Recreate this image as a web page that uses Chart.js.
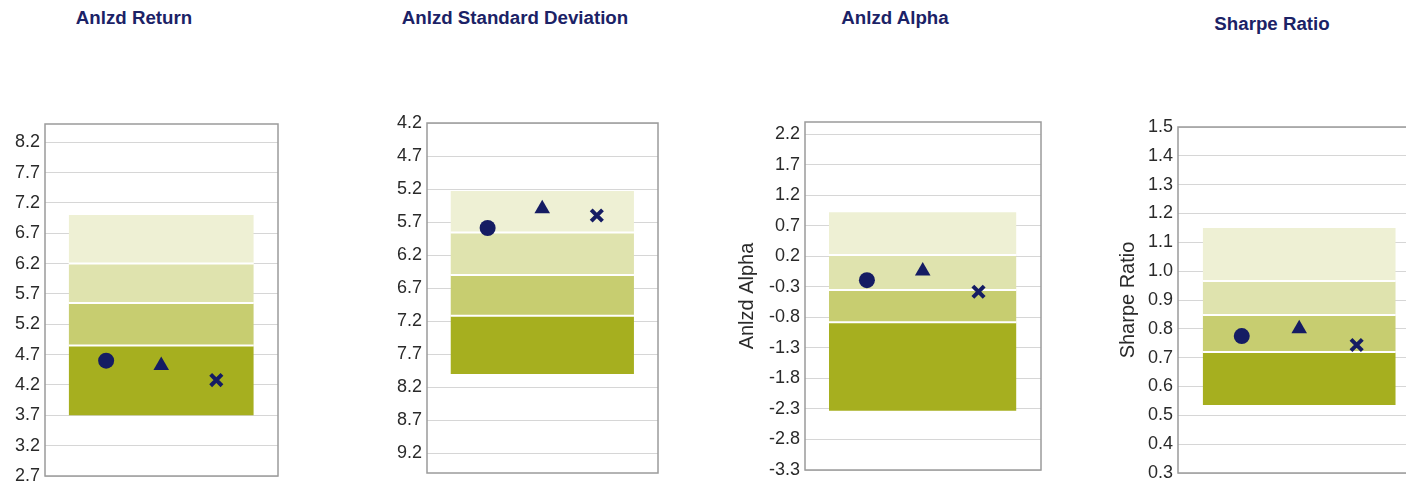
<!DOCTYPE html>
<html>
<head>
<meta charset="utf-8">
<script src="https://cdn.jsdelivr.net/npm/chart.js@4.4.1/dist/chart.umd.min.js"></script>
<style>
  html, body { margin:0; padding:0; background:#fff; overflow:hidden; width:1406px; height:485px; }
  .ttl { position:absolute; width:400px; text-align:center; font:bold 18.7px "Liberation Sans", Arial, sans-serif;
         color:#1b2266; line-height:20px; white-space:nowrap; }
  canvas { position:absolute; top:0; }
</style>
</head>
<body>
<script>
// ---------- data ----------
const metricTitles = ['Anlzd Return', 'Anlzd Standard Deviation', 'Anlzd Alpha', 'Sharpe Ratio'];
const seriesNames  = ['Fund', 'Category', 'Benchmark'];

const returnTicks = [2.7, 3.2, 3.7, 4.2, 4.7, 5.2, 5.7, 6.2, 6.7, 7.2, 7.7, 8.2];
const stdDevTicks = [4.2, 4.7, 5.2, 5.7, 6.2, 6.7, 7.2, 7.7, 8.2, 8.7, 9.2];
const alphaTicks  = [-3.3, -2.8, -2.3, -1.8, -1.3, -0.8, -0.3, 0.2, 0.7, 1.2, 1.7, 2.2];
const sharpeTicks = [0.3, 0.4, 0.5, 0.6, 0.7, 0.8, 0.9, 1.0, 1.1, 1.2, 1.3, 1.4, 1.5];

// quartile band boundaries, listed from the visually top band to the bottom one
const returnBands = [7.0, 6.2, 5.55, 4.85, 3.7];
const stdDevBands = [5.23, 5.86, 6.5, 7.12, 8.0];
const alphaBands  = [0.92, 0.22, -0.35, -0.88, -2.33];
const sharpeBands = [1.15, 0.966, 0.848, 0.72, 0.536];

// values per metric in order: Fund (circle), Category (triangle), Benchmark (x)
const returnValues = [4.60, 4.52, 4.28];
const stdDevValues = [5.79, 5.50, 5.60];
const alphaValues  = [-0.19, -0.04, -0.38];
const sharpeValues = [0.775, 0.80, 0.744];

// ---------- styling / layout ----------
const bandColors   = ['#eef0d4', '#dfe3ae', '#c7cd70', '#a6af1f'];
const markerColor  = '#151c63';
const markerStyles = [
  { pointStyle: 'circle',   radius: 8, borderWidth: 0 },
  { pointStyle: 'triangle', radius: 9, borderWidth: 0 },
  { pointStyle: 'crossRot', radius: 8, borderWidth: 4 }
];
const BAND_X0 = 0.32, BAND_X1 = 3.68, X_MIN = -0.11, X_MAX = 4.12;
const FONT = '"Liberation Sans", Arial, sans-serif';

const panels = [
  { ticks: returnTicks, bands: returnBands, values: returnValues, min: 2.7, max: 8.5, reverse: false,
    left: 0, width: 300, axisW: 45, pad: { top: 124, bottom: 9, right: 22 }, titleX: 134, titleTop: 8 },
  { ticks: stdDevTicks, bands: stdDevBands, values: stdDevValues, min: 4.2, max: 9.5, reverse: true,
    left: 350, width: 330, axisW: 77, pad: { top: 123, bottom: 12, right: 22 }, titleX: 515, titleTop: 8 },
  { ticks: alphaTicks, bands: alphaBands, values: alphaValues, min: -3.3, max: 2.4, reverse: false,
    left: 700, width: 360, axisW: 105, pad: { top: 122, bottom: 15, right: 19 }, titleX: 895, titleTop: 8,
    axisTitle: 'Anlzd Alpha', axisTitlePad: 35 },
  { ticks: sharpeTicks, bands: sharpeBands, values: sharpeValues, min: 0.3, max: 1.5, reverse: false,
    left: 1060, width: 370, axisW: 118, pad: { top: 127, bottom: 12, right: 9 }, titleX: 1272, titleTop: 14,
    axisTitle: 'Sharpe Ratio', axisTitlePad: 56 }
];

const framePlugin = {
  id: 'frame',
  afterDatasetsDraw(chart) {
    const { ctx, chartArea: { left, top, right, bottom } } = chart;
    ctx.save();
    ctx.strokeStyle = '#9b9b9b';
    ctx.lineWidth = 1.5;
    ctx.strokeRect(left, top, right - left, bottom - top);
    ctx.restore();
  }
};

panels.forEach((p, idx) => {
  const t = document.createElement('div');
  t.className = 'ttl';
  t.textContent = metricTitles[idx];
  t.style.left = (p.titleX - 200) + 'px';
  t.style.top = p.titleTop + 'px';
  document.body.appendChild(t);

  const cv = document.createElement('canvas');
  cv.width = p.width; cv.height = 485;
  cv.style.left = p.left + 'px';
  cv.style.width = p.width + 'px'; cv.style.height = '485px';
  document.body.appendChild(cv);

  const datasets = [];
  p.values.forEach((v, i) => {
    const s = markerStyles[i];
    datasets.push({
      type: 'scatter',
      label: seriesNames[i],
      data: [{ x: i + 1, y: v }],
      pointStyle: s.pointStyle,
      pointRadius: s.radius,
      pointBorderWidth: s.borderWidth,
      backgroundColor: markerColor,
      borderColor: markerColor,
      order: i
    });
  });
  for (let b = 0; b < p.bands.length - 1; b++) {
    datasets.push({
      type: 'line',
      label: 'Quartile ' + (b + 1),
      data: [{ x: BAND_X0, y: p.bands[b] }, { x: BAND_X1, y: p.bands[b] }],
      fill: { value: p.bands[b + 1] },
      backgroundColor: bandColors[b],
      borderColor: '#ffffff',
      borderWidth: b === 0 ? 0 : 2,
      pointRadius: 0,
      tension: 0,
      order: 20 - b
    });
  }

  new Chart(cv, {
    type: 'scatter',
    data: { datasets },
    plugins: [framePlugin],
    options: {
      responsive: false,
      animation: false,
      devicePixelRatio: 1,
      layout: { autoPadding: false, padding: { top: p.pad.top, bottom: p.pad.bottom, left: 0, right: p.pad.right } },
      plugins: { legend: { display: false }, tooltip: { enabled: false }, title: { display: false } },
      scales: {
        x: { type: 'linear', display: false, min: X_MIN, max: X_MAX },
        y: {
          type: 'linear',
          min: p.min, max: p.max, reverse: p.reverse,
          afterBuildTicks: (scale) => { scale.ticks = p.ticks.map(v => ({ value: v })); },
          afterFit: (scale) => { scale.width = p.axisW; scale.paddingTop = 0; scale.paddingBottom = 0; },
          ticks: {
            autoSkip: false, padding: 5, color: '#2a2a2a',
            font: { family: FONT, size: 18 },
            callback: (v) => Number(v).toFixed(1)
          },
          grid: { color: '#d6d6d6', lineWidth: 1, drawTicks: false },
          border: { display: false },
          title: p.axisTitle ? {
            display: true, text: p.axisTitle, color: '#2a2a2a',
            font: { family: FONT, size: 20 }, padding: { top: p.axisTitlePad, bottom: 0 }
          } : { display: false }
        }
      }
    }
  });
});
</script>
</body>
</html>
